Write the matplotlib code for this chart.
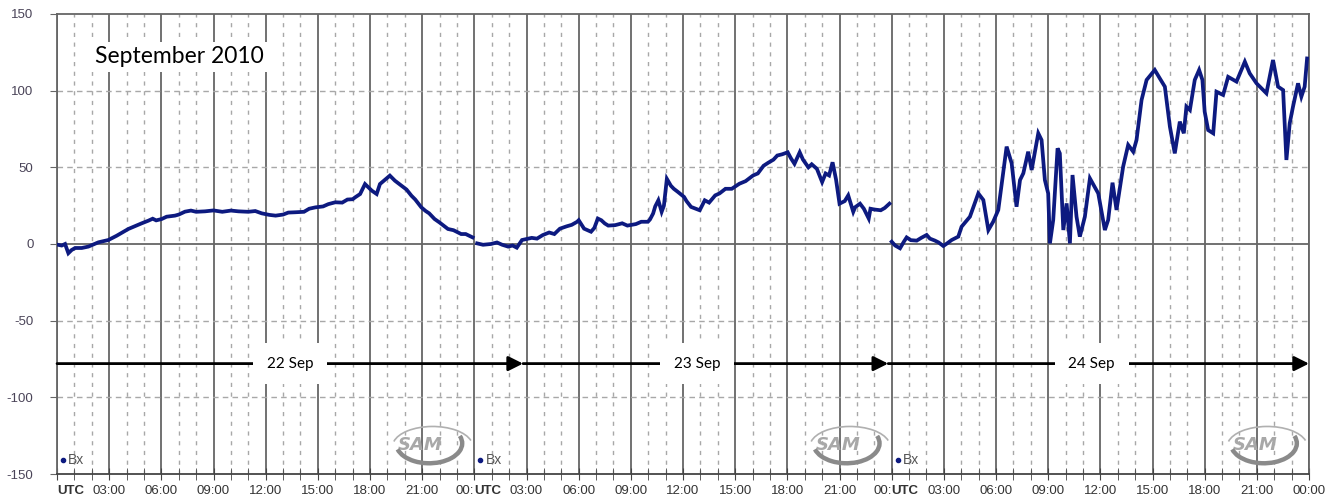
import matplotlib.pyplot as plt
from matplotlib.patches import Arc

# ── Bx magnetometer trace, one array pair per UTC day (hours, nT) ────────────
day1_h = [0.0, 0.27, 0.46, 0.65, 0.84, 1.04, 1.42, 1.8, 2.38, 2.95, 3.43, 4.1,
          4.87, 5.25, 5.5, 5.7, 6.02, 6.3, 6.78, 7.0, 7.36, 7.7, 8.0, 8.51,
          9.0, 9.5, 10.0, 10.43, 11.0, 11.4, 11.77, 12.2, 12.57, 13.0, 13.3,
          13.71, 14.2, 14.5, 14.86, 15.3, 15.6, 16.0, 16.4, 16.7, 17.0, 17.14,
          17.43, 17.71, 18.1, 18.38, 18.57, 19.14, 19.43, 19.81, 20.1, 20.38,
          20.6, 20.95, 21.2, 21.4, 21.71, 22.0, 22.48, 22.8, 23.24, 23.5, 23.9]
day1_bx = [-0.4, -1, 0, -6, -3.9, -2.6, -2.6, -1.7, 1.1, 2.6, 5.4, 9.8,
           13.5, 15.2, 16.5, 15.4, 16.3, 17.8, 18.5, 19.2, 21.1, 21.8, 21.0, 21.3,
           21.9, 21.0, 21.8, 21.3, 21.0, 21.5, 20, 19.0, 18.5, 19.2, 20.5,
           20.7, 21.0, 23.0, 23.9, 24.5, 26.0, 27.2, 27.0, 29.0, 29.2, 30.4,
           32.6, 39.1, 34.8, 32.6, 39.1, 44.6, 41.3, 38, 35.5, 31.5,
           29.0, 23.9, 21.5, 20.0, 16.3, 14.0, 9.8, 9.0, 6.5, 6.5, 4.3]

day2_h = [0.16, 0.5, 0.95, 1.3, 1.6, 1.94, 2.2, 2.44, 2.74, 3.3, 3.6, 3.93,
          4.3, 4.6, 4.92, 5.3, 5.6, 5.91, 6.0, 6.31, 6.71, 6.9, 7.1, 7.3, 7.5,
          7.7, 8.1, 8.5, 8.8, 9.29, 9.6, 9.98, 10.1, 10.28, 10.4, 10.58, 10.77,
          10.9, 11.07, 11.3, 11.47, 11.7, 12.06, 12.2, 12.46, 12.96, 13.25,
          13.5, 13.85, 14.1, 14.44, 14.8, 15.24, 15.6, 16.03, 16.3, 16.63,
          16.9, 17.2, 17.42, 17.7, 18.02, 18.2, 18.41, 18.71, 18.9, 19.21,
          19.4, 19.7, 20.0, 20.2, 20.4, 20.6, 20.8, 21.0, 21.3, 21.5, 21.79,
          21.9, 22.18, 22.4, 22.68, 22.78, 23.0, 23.37, 23.6, 23.87]
day2_bx = [0.4, -0.5, 0, 1.0, -0.5, -1.7, -1.0, -2.4, 2.6, 4.0, 3.5, 5.8,
           7.5, 6.5, 10, 11.5, 12.5, 14.5, 15.5, 10, 8, 10.5, 16.6, 15.5, 13.4,
           12.0, 12.3, 13.5, 12.0, 13, 14.5, 14.5, 16.0, 19.9, 24.5, 28.5, 21,
           25, 42.5, 38, 36, 34, 30.7, 28, 24.2, 22, 28.5,
           27, 31.7, 33, 36, 36, 39.3, 41, 44.7, 46, 51,
           53, 55, 57.7, 58.5, 59.8, 56, 52.3, 59.8, 55, 50,
           52, 49, 40.4, 46, 44.7, 53.3, 42, 26.3, 28, 31.7, 21,
           24, 26.3, 23, 16.6, 23, 22.5, 22, 23.5, 26.3]

day3_h = [0.0, 0.2, 0.48, 0.7, 0.86, 1.1, 1.44, 1.7, 2.01, 2.2, 2.49, 2.7,
          2.97, 3.2, 3.45, 3.83, 4.02, 4.5, 4.98, 5.27, 5.56, 5.84, 6.13, 6.61,
          6.9, 7.18, 7.38, 7.57, 7.85, 8.05, 8.43, 8.62, 8.81, 9.0, 9.1, 9.29,
          9.54, 9.67, 9.87, 10.06, 10.25, 10.4, 10.63, 10.82, 11.11, 11.4,
          11.88, 12.26, 12.45, 12.7, 12.93, 13.31, 13.6, 13.89, 14.08, 14.37,
          14.66, 15.13, 15.42, 15.71, 16.0, 16.28, 16.57, 16.8, 16.95, 17.15,
          17.43, 17.68, 17.87, 18.0, 18.2, 18.49, 18.68, 19.06, 19.35, 19.83,
          20.31, 20.59, 20.98, 21.55, 21.93, 22.22, 22.51, 22.7, 22.89, 23.08,
          23.37, 23.56, 23.75, 23.89]
day3_bx = [1.5, -1, -2.8, 1.5, 4.3, 2.5, 2.2, 4, 5.9, 3.5, 2.2, 1,
           -1.3, 0.5, 2.6, 4.8, 11.3, 17.8, 33, 28.7, 9.1, 14.6, 22.2, 63.5,
           52.6, 24.3, 41.7, 46.1, 60.2, 48.3, 72.2, 67.8, 41.7, 33, 0.4, 15.7,
           62.4, 59.1, 9.1, 26.5, 0.4, 45, 17.8, 4.8, 17.8, 42.8,
           33, 9.1, 15.7, 40, 22.2, 50.4, 64.6, 60.2, 67.8, 93.9,
           107, 113.5, 108, 102.6, 76.5, 59.1, 79.8, 72.2, 89.6, 87.4,
           107, 113.5, 107, 86.3, 74.3, 72.2, 99.3, 97.2, 109, 105.9,
           118.9, 111.3, 104.8, 98.3, 120, 102.6, 100.4, 54.8, 78.7, 89.6,
           104.8, 96.1, 102.6, 121]

days = [(day1_h, day1_bx), (day2_h, day2_bx), (day3_h, day3_bx)]
day_labels = ["22 Sep", "23 Sep", "24 Sep"]
y_ticks = [150, 100, 50, 0, -50, -100, -150]

LINE = "#0d1a80"
GRID_SOLID = "#666666"
GRID_DOT = "#a8a8a8"

fig = plt.figure(figsize=(13.33, 5), dpi=100)
ax = fig.add_axes([0.0428, 0.052, 0.9392, 0.92])
ax.set_xlim(0, 72)
ax.set_ylim(-150, 150)

# hourly grid: solid every 3 h, dotted in between
for h in range(0, 73):
    if h % 3 == 0:
        ax.axvline(h, color=GRID_SOLID, lw=1.3, zorder=1)
    else:
        ax.axvline(h, color=GRID_DOT, lw=1.0, ls=(0, (3, 4)), zorder=1)
for v in [100, 50, -50, -100]:
    ax.axhline(v, color=GRID_DOT, lw=1.0, ls=(0, (4, 3)), zorder=1)
ax.axhline(0, color=GRID_SOLID, lw=1.3, zorder=1)

# trace, drawn per day so the midnight joins stay open
for i, (hrs, bx) in enumerate(days):
    ax.plot([h + 24 * i for h in hrs], bx, color=LINE, lw=2.7,
            solid_joinstyle="miter", zorder=3)

# legend dot + SAM badge in each day's panel
for i in range(3):
    x0 = 24 * i
    ax.plot(x0 + 0.35, -141, marker="o", ms=3, color=LINE, zorder=4)
    ax.text(x0 + 0.65, -141, "Bx", fontsize=10, color="#555555", va="center",
            family="Liberation Sans", zorder=4)
    ax.text(x0 + 20.9, -131, "SAM", fontsize=13, fontstyle="italic",
            fontweight="bold", color="#a8a8a8", ha="center", va="center",
            family="DejaVu Sans", zorder=4)
    ax.add_patch(Arc((x0 + 21.4, -130), 3.8, 26, theta1=-115, theta2=70,
                     color="#8a8a8a", lw=3.2, zorder=4))
    ax.add_patch(Arc((x0 + 21.6, -132), 4.6, 26, theta1=60, theta2=125,
                     color="#b0b0b0", lw=1.2, zorder=4))

# day arrows along y = -78
arrow_ends = [0, 26.8, 47.8, 72]
label_x = [13.4, 36.8, 59.5]
for i in range(3):
    ax.annotate("", xy=(arrow_ends[i + 1], -78), xytext=(arrow_ends[i], -78),
                arrowprops=dict(arrowstyle="-|>", color="black", lw=2,
                                mutation_scale=22, shrinkA=0, shrinkB=0),
                zorder=5)
    ax.text(label_x[i], -78, day_labels[i], fontsize=11, family="Lato",
            ha="center", va="center", zorder=6,
            bbox=dict(boxstyle="square,pad=0.9", fc="white", ec="none"))

ax.text(7.05, 122, "September 2010", fontsize=16.5, family="Lato",
        ha="center", va="center", zorder=6,
        bbox=dict(boxstyle="square,pad=0.2", fc="white", ec="none"))

# axes frame and ticks
for side in ["top", "right", "left"]:
    ax.spines[side].set_color(GRID_SOLID)
    ax.spines[side].set_linewidth(1.3)
ax.spines["bottom"].set_color("#444444")
ax.spines["bottom"].set_linewidth(1.3)

ax.set_yticks(y_ticks)
ax.set_yticklabels([str(v) for v in y_ticks], fontsize=9.5, color="#4a4458",
                   family="Liberation Sans")
ax.tick_params(axis="y", direction="out", length=5, color=GRID_SOLID, pad=12)

major = list(range(0, 73, 3))
xlabels = []
for h in major:
    if h == 72:
        xlabels.append("00:00")
    elif h % 24 == 0:
        xlabels.append("")
    else:
        xlabels.append(f"{h % 24:02d}:00")
ax.set_xticks(major)
ax.set_xticklabels(xlabels, fontsize=9.5, color="#333333",
                   family="Liberation Sans")
ax.set_xticks(range(0, 73), minor=True)
ax.tick_params(axis="x", which="both", direction="inout", length=8,
               color="#444444", pad=4)

trans = ax.get_xaxis_transform()
for h in (0, 24, 48):
    ax.annotate("UTC", xy=(h, 0), xycoords=trans, xytext=(0, -8),
                textcoords="offset points", ha="left", va="top",
                fontsize=9.5, fontweight="bold", color="#333333",
                family="Liberation Sans", annotation_clip=False)
    if h > 0:
        ax.annotate("00:", xy=(h, 0), xycoords=trans, xytext=(0, -8),
                    textcoords="offset points", ha="right", va="top",
                    fontsize=9.5, color="#333333", family="Liberation Sans",
                    annotation_clip=False)

fig.savefig("out.png", dpi=100)
